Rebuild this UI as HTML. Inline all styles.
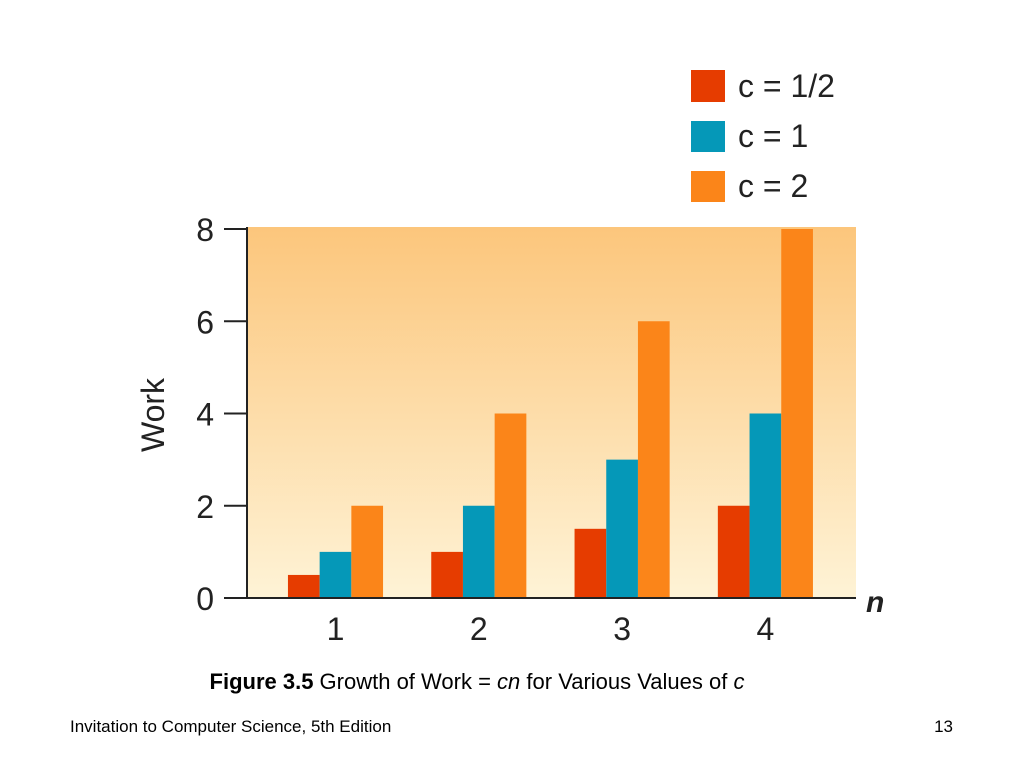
<!DOCTYPE html>
<html><head><meta charset="utf-8"><style>
body{margin:0;background:#fff;width:1024px;height:768px;overflow:hidden;font-family:"Liberation Sans",sans-serif}
</style></head><body>
<svg width="1024" height="768" xmlns="http://www.w3.org/2000/svg">
<defs><linearGradient id="bg" x1="0" y1="0" x2="0" y2="1"><stop offset="0" stop-color="#fcc67c"/><stop offset="1" stop-color="#fef3d6"/></linearGradient></defs>
<rect x="248" y="227" width="608" height="371" fill="url(#bg)"/>
<g id="bars"></g>
<g id="axes" stroke="#222" stroke-width="2" fill="none"></g>
<g id="ticklabels" font-size="32" fill="#222"></g>
<text transform="translate(164,415) rotate(-90)" text-anchor="middle" font-size="32" fill="#222">Work</text>
<text x="866" y="612" font-size="30" font-style="italic" font-weight="bold" fill="#222">n</text>
<g font-size="32" fill="#222">
<rect x="691" y="70" width="34" height="32" fill="#e63c00"/>
<text x="738" y="97">c = 1/2</text>
<rect x="691" y="121" width="34" height="31" fill="#0598b8"/>
<text x="738" y="147">c = 1</text>
<rect x="691" y="171" width="34" height="31" fill="#fb8519"/>
<text x="738" y="197">c = 2</text>
</g>
<text x="477" y="689" text-anchor="middle" font-size="22" fill="#000"><tspan font-weight="bold">Figure 3.5</tspan> Growth of Work = <tspan font-style="italic">cn</tspan> for Various Values of <tspan font-style="italic">c</tspan></text>
<text x="70" y="732" font-size="17" fill="#000">Invitation to Computer Science, 5th Edition</text>
<text x="953" y="732" text-anchor="end" font-size="17" fill="#000">13</text>
</svg>
<script>
const categories=["1","2","3","4"];
const seriesHalf=[0.5,1,1.5,2];
const seriesOne=[1,2,3,4];
const seriesTwo=[2,4,6,8];
const yTicks=[0,2,4,6,8];
const NS="http://www.w3.org/2000/svg";
const y0=598,yTop=229,yMax=8;
function yS(v){return y0-(v/yMax)*(y0-yTop);}
function xC(i){return 335.5+i*143.3;}
const bw=31.7;
const series=[{d:seriesHalf,c:"#e63c00",n:"half"},{d:seriesOne,c:"#0598b8",n:"one"},{d:seriesTwo,c:"#fb8519",n:"two"}];
const bars=document.getElementById('bars');
categories.forEach((cat,i)=>{
  series.forEach((s,k)=>{
    const r=document.createElementNS(NS,'rect');
    
    
    const x=xC(i)+(k-1.5)*bw;
    r.setAttribute('x',x);r.setAttribute('width',bw);
    r.setAttribute('y',yS(s.d[i]));r.setAttribute('height',y0-yS(s.d[i]));
    r.setAttribute('fill',s.c);bars.appendChild(r);
  });
  const t=document.createElementNS(NS,'text');
  
  
  t.setAttribute('x',xC(i));t.setAttribute('y',640);t.setAttribute('text-anchor','middle');
  t.setAttribute('font-size','32');t.setAttribute('fill','#222');t.textContent=cat;
  document.getElementById('ticklabels').appendChild(t);
});
const ax=document.getElementById('axes');
function line(x1,y1,x2,y2,n){const l=document.createElementNS(NS,'line');


l.setAttribute('x1',x1);l.setAttribute('y1',y1);l.setAttribute('x2',x2);l.setAttribute('y2',y2);ax.appendChild(l);}
line(247,227,247,599,'y-axis-line');
line(224,598,856,598,'x-axis-line');
yTicks.forEach(v=>{
  line(224,yS(v),247,yS(v),'y-tick');
  const t=document.createElementNS(NS,'text');
  
  
  t.setAttribute('x',214);t.setAttribute('y',yS(v)+12);t.setAttribute('text-anchor','end');
  t.textContent=v;document.getElementById('ticklabels').appendChild(t);
});
</script>
</body></html>
